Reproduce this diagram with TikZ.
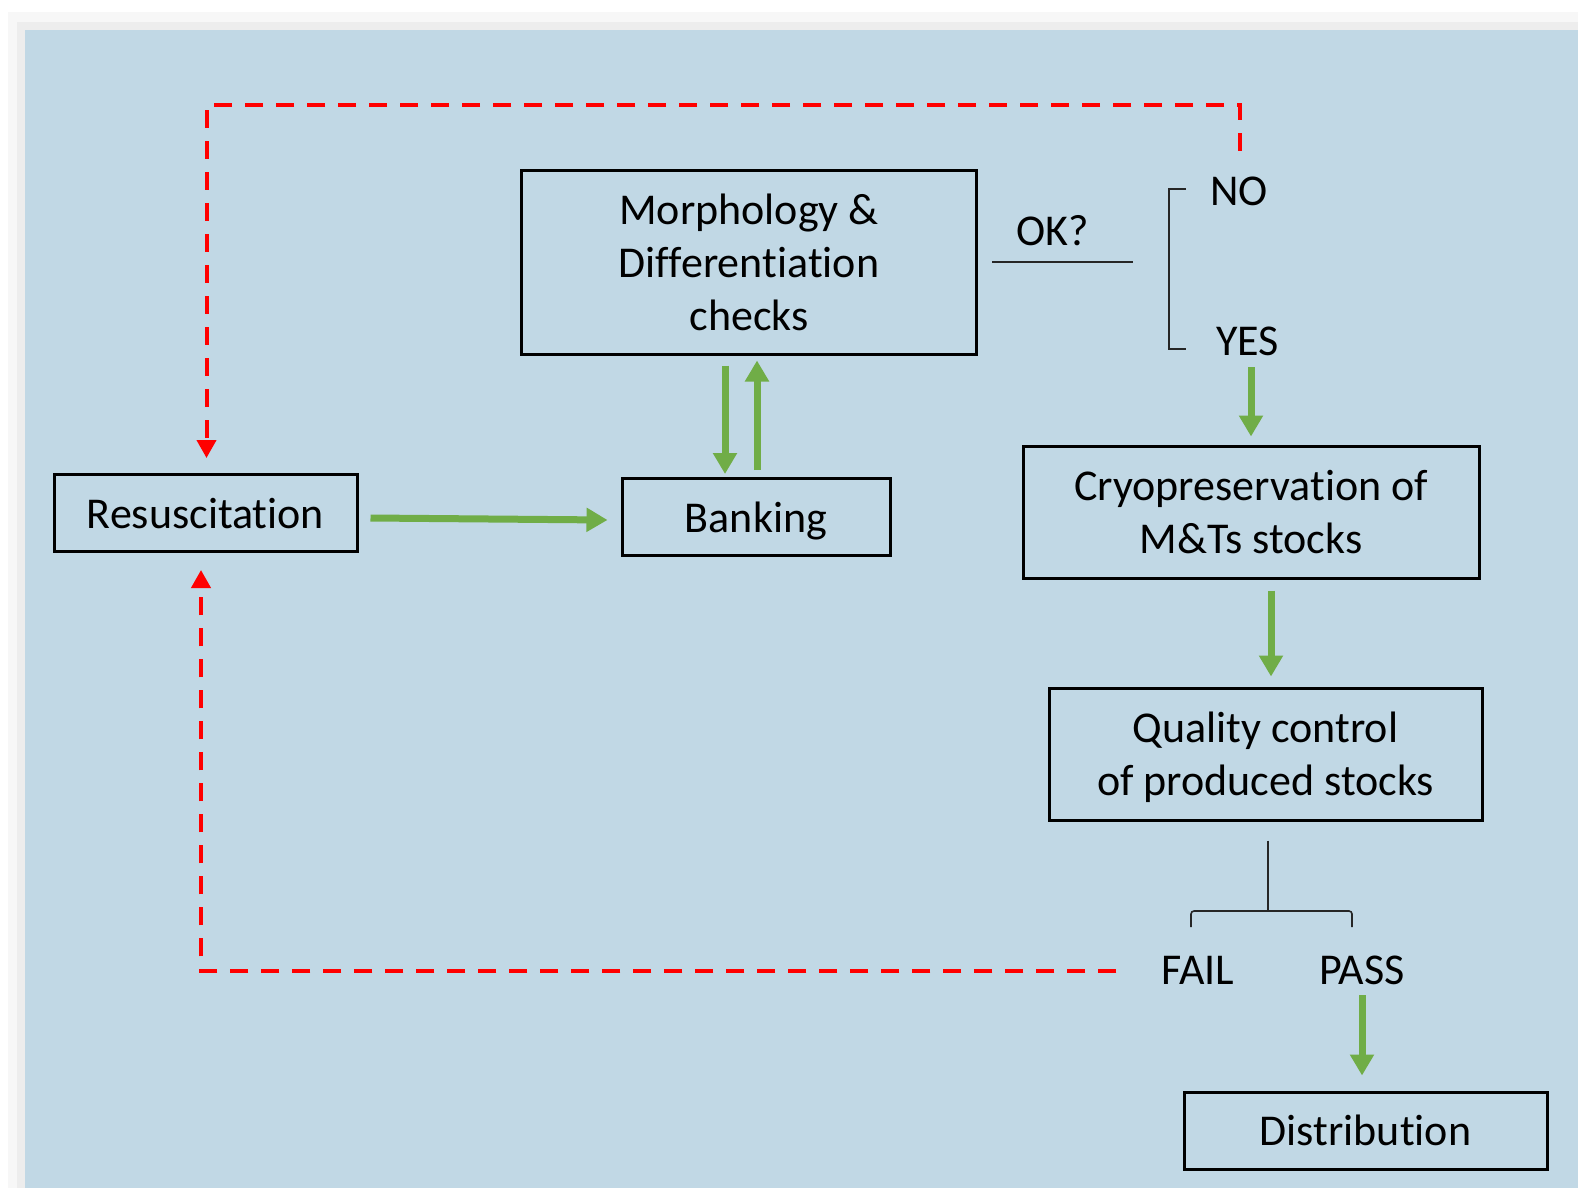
\documentclass[tikz,border=0pt]{standalone}
\usepackage{fontspec}
\setmainfont{Carlito}[Ligatures=NoCommon]
\usetikzlibrary{arrows.meta}

\definecolor{bgblue}{HTML}{C1D8E5}
\definecolor{gogreen}{HTML}{70AD47}
\definecolor{backred}{HTML}{FF0000}

\tikzset{
  box/.style={draw=black, line width=3pt, align=center, inner sep=0pt, text depth=0pt},
  label/.style={inner sep=0pt},
  goarrow/.style={draw=gogreen, line width=7pt, -{Triangle[width=23pt,length=21pt]}},
  backarrow/.style={draw=backred, line width=4pt, dash pattern=on 18pt off 13pt,
    -{Triangle[width=19pt,length=18pt]}},
  thinline/.style={draw=black!85, line width=1.6pt},
}

\begin{document}
\begin{tikzpicture}[x=1pt,y=-1pt,font=\fontsize{44}{53}\selectfont]
    % Background
    \fill[white] (0,0) rectangle (1578,1188);
    \fill[black!3] (8,12) rectangle (1578,1188);
    \fill[black!7] (17,22) rectangle (1578,1188);
    \fill[bgblue] (25,30) rectangle (1578,1188);
    \useasboundingbox (0,0) rectangle (1578,1188);

    % Boxes
    \node[box, minimum width=455pt, minimum height=184pt] (morph) at (749,262)
        {Morphology \&\\Differentiation\\checks};
    \node[box, minimum width=303pt, minimum height=77pt] (resus) at (205.5,513) {Resuscitation};
    \node[box, minimum width=268pt, minimum height=77pt] (banking) at (756,517) {Banking};
    \node[box, minimum width=456pt, minimum height=132pt] (cryo) at (1251,512)
        {Cryopreservation of\\M\&Ts stocks};
    \node[box, minimum width=433pt, minimum height=132pt] (qc) at (1265.5,754)
        {Quality control\\of produced stocks};
    \node[box, minimum width=363pt, minimum height=77pt] (dist) at (1365.5,1130.5) {Distribution};

    % Decision labels
    \node[label] (ok) at (1053,231) {OK?};
    \node[label] (no) at (1239,191.5) {NO};
    \node[label] (yes) at (1247.5,341.5) {YES};
    \node[label] (fail) at (1198,970) {FAIL};
    \node[label] (pass) at (1362,970) {PASS};

    % Brackets
    \coordinate (okleft) at (992,262);
    \coordinate (okright) at (1133,262);
    \draw[thinline] (okleft) -- (okright);
    \draw[thinline] (1186,189) -- (1169,189) -- (1169,349) -- (1186,349);
    \coordinate (qcstem) at (1268,911);
    \draw[thinline] ([xshift=2.5pt,yshift=-19pt]qc.south) -- (qcstem);
    \draw[thinline, rounded corners=3pt] (1191,927) -- (1191,911) -- (1352,911) -- (1352,927);

    % Green flow
    \draw[goarrow] ([xshift=12pt,yshift=-5pt]resus.east) -- ([xshift=-13pt,yshift=-3pt]banking.west);
    \draw[goarrow] ([xshift=-24pt,yshift=-10pt]morph.south) -- ([xshift=-31pt,yshift=3pt]banking.north);
    \draw[goarrow] ([xshift=1pt,yshift=7pt]banking.north) -- ([xshift=8pt,yshift=-5pt]morph.south);
    \draw[goarrow] ([xshift=3.5pt,yshift=-11pt]yes.south) -- ([yshift=8pt]cryo.north);
    \draw[goarrow] ([xshift=20pt,yshift=-11pt]cryo.south) -- ([xshift=5.5pt,yshift=10pt]qc.north);
    \draw[goarrow] ([yshift=-10.5pt]pass.south) -- ([xshift=-3.5pt,yshift=15pt]dist.north);

    % Red loops back
    \draw[backarrow] ([xshift=1pt,yshift=26pt]no.north) -- ++(0,-46) -| ([xshift=1pt,yshift=15pt]resus.north);
    \draw[backarrow] ([xshift=-45pt,yshift=-1pt]fail.west) -| ([xshift=-4.5pt,yshift=-17pt]resus.south);
\end{tikzpicture}
\end{document}
